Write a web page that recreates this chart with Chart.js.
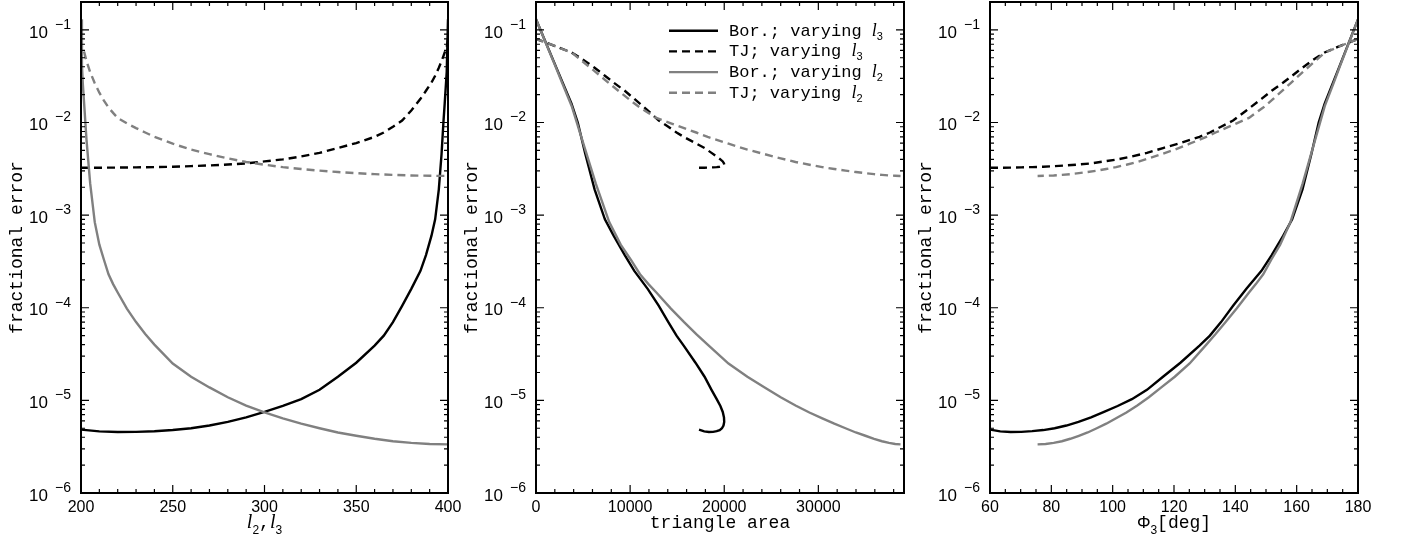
<!DOCTYPE html>
<html>
<head>
<meta charset="utf-8">
<script src="https://cdn.jsdelivr.net/npm/chart.js@4.4.1/dist/chart.umd.min.js"></script>
<style>
body { margin: 0; background: #fff; width: 1410px; height: 542px; overflow: hidden; position: relative; }
.panel { position: absolute; top: 0; height: 542px; }
</style>
</head>
<body>
<div class="panel" style="left:0px;width:480px"><canvas id="c1" width="480" height="542"></canvas></div>
<div class="panel" style="left:455px;width:480px"><canvas id="c2" width="480" height="542"></canvas></div>
<div class="panel" style="left:909px;width:501px"><canvas id="c3" width="501" height="542"></canvas></div>
<script>
// varying l3 (l1 = l2 = 200)
var L3 = [200, 210, 220, 230, 240, 250, 260, 270, 280, 290, 300, 310, 320, 330, 340, 350, 360, 365, 370, 375, 380, 385, 388, 391, 393, 395, 396.5, 397.5, 398.2, 399.3, 400];
var area3 = [17320, 17873, 18374, 18817, 19200, 19516, 19758, 19921, 19996, 19974, 19843, 19591, 19200, 18649, 17910, 16944, 15692, 14931, 14059, 13049, 11866, 10444, 9432, 8247, 7321, 6226, 5234, 4437, 3774, 2362, 0];
var phi3 = [60, 63.34, 66.73, 70.2, 73.74, 77.36, 81.08, 84.91, 88.85, 92.94, 97.18, 101.61, 106.26, 111.18, 116.42, 122.09, 128.32, 131.71, 135.34, 139.27, 143.61, 148.52, 151.86, 155.63, 158.53, 161.9, 164.82, 167.18, 169.13, 173.22, 180];
var borL3 = [4.83e-6, 4.63e-6, 4.56e-6, 4.57e-6, 4.65e-6, 4.78e-6, 5.0e-6, 5.35e-6, 5.85e-6, 6.55e-6, 7.5e-6, 8.7e-6, 1.03e-5, 1.3e-5, 1.8e-5, 2.55e-5, 3.9e-5, 5.0e-5, 7.0e-5, 1.05e-4, 1.6e-4, 2.5e-4, 3.7e-4, 6.0e-4, 9.0e-4, 1.9e-3, 4.6e-3, 1.0e-2, 1.6e-2, 3.5e-2, 0.13];
var tjL3 = [3.25e-3, 3.25e-3, 3.26e-3, 3.28e-3, 3.3e-3, 3.33e-3, 3.38e-3, 3.44e-3, 3.52e-3, 3.62e-3, 3.8e-3, 4.0e-3, 4.3e-3, 4.7e-3, 5.3e-3, 6.0e-3, 7.0e-3, 7.8e-3, 9.0e-3, 1.05e-2, 1.35e-2, 1.8e-2, 2.2e-2, 2.7e-2, 3.2e-2, 3.9e-2, 4.6e-2, 5.2e-2, 5.7e-2, 6.5e-2, 8.0e-2];

// varying l2 (l1 = 400, l3 = 200)
var L2 = [200, 200.5, 201, 201.8, 203, 205, 207.5, 210, 212.5, 215, 217.5, 220, 225, 230, 235, 240, 250, 260, 270, 280, 290, 300, 310, 320, 330, 340, 350, 360, 370, 380, 390, 400];
var area2 = [0, 2001, 2830, 3799, 4908, 6344, 7781, 8997, 10073, 11049, 11950, 12790, 14333, 15735, 17030, 18239, 20454, 22459, 24297, 25997, 27576, 29047, 30419, 31696, 32883, 33982, 34995, 35920, 36758, 37507, 38165, 38730];
var phi2 = [180, 174.27, 171.91, 169.15, 166.02, 161.97, 157.97, 154.62, 151.71, 149.09, 146.68, 144.46, 140.43, 136.83, 133.56, 130.54, 125.1, 120.25, 115.86, 111.8, 108.03, 104.48, 101.11, 97.9, 94.82, 91.85, 88.98, 86.18, 83.44, 80.76, 78.13, 75.52];
var borL2 = [0.13, 0.042, 0.026, 0.015, 6.5e-3, 2.2e-3, 8.4e-4, 4.8e-4, 3.3e-4, 2.3e-4, 1.8e-4, 1.46e-4, 9.8e-5, 7.0e-5, 5.2e-5, 4.0e-5, 2.5e-5, 1.8e-5, 1.38e-5, 1.08e-5, 8.8e-6, 7.4e-6, 6.4e-6, 5.6e-6, 5.0e-6, 4.5e-6, 4.15e-6, 3.85e-6, 3.62e-6, 3.48e-6, 3.38e-6, 3.35e-6];
var tjL2 = [0.08, 0.067, 0.062, 0.057, 0.046, 0.035, 0.0265, 0.021, 0.0172, 0.0145, 0.0127, 0.0112, 9.8e-3, 8.7e-3, 7.8e-3, 7.0e-3, 5.9e-3, 5.1e-3, 4.55e-3, 4.1e-3, 3.75e-3, 3.5e-3, 3.3e-3, 3.15e-3, 3.02e-3, 2.92e-3, 2.84e-3, 2.77e-3, 2.72e-3, 2.68e-3, 2.66e-3, 2.65e-3];

var yExp = [-6, -5, -4, -3, -2, -1];
var xTicks1 = [200, 250, 300, 350, 400];
var xTicks2 = [0, 10000, 20000, 30000];
var xTicks3 = [60, 80, 100, 120, 140, 160, 180];
var legendText = ['Bor.; varying ', 'TJ; varying ', 'Bor.; varying ', 'TJ; varying '];
var legendSub = ['3', '3', '2', '2'];

var BLACK = '#000000', GREY = '#808080';
var MONO = '"Liberation Mono", "Courier New", monospace';
var SANS = '"Liberation Sans", Arial, sans-serif';
var SERIF = '"Liberation Serif", "Times New Roman", serif';

function pts(xs, ys) {
    return xs.map(function(x, i) { return {x: x, y: ys[i]}; });
}

function series(xs3, xs2) {
    var base = {showLine: true, pointRadius: 0, borderWidth: 2.4, fill: false, tension: 0};
    return [
        Object.assign({label: 'Bor.; varying l2', data: pts(xs2, borL2), borderColor: GREY}, base),
        Object.assign({label: 'TJ; varying l2', data: pts(xs2, tjL2), borderColor: GREY, borderDash: [8, 5]}, base),
        Object.assign({label: 'Bor.; varying l3', data: pts(xs3, borL3), borderColor: BLACK}, base),
        Object.assign({label: 'TJ; varying l3', data: pts(xs3, tjL3), borderColor: BLACK, borderDash: [8, 5]}, base)
    ];
}

function rich(ctx, parts, x, y, align) {
    var w = 0;
    parts.forEach(function(p) { ctx.font = p.f; w += ctx.measureText(p.t).width; });
    var cx = align === 'center' ? x - w / 2 : x;
    ctx.textAlign = 'left';
    ctx.textBaseline = 'alphabetic';
    parts.forEach(function(p) {
        ctx.font = p.f;
        ctx.fillText(p.t, cx, y + (p.dy || 0));
        cx += ctx.measureText(p.t).width;
    });
}

// frame, inward ticks on all sides, 10^n labels, rich titles, legend
var decor = {
    id: 'decor',
    afterDatasetsDraw: function(chart, args, o) {
        var ctx = chart.ctx, a = chart.chartArea;
        var xs = chart.scales.x, ys = chart.scales.y;
        ctx.save();
        ctx.strokeStyle = '#000';
        ctx.fillStyle = '#000';
        ctx.lineWidth = 1.2;
        ctx.beginPath();
        for (var v = o.xMin; v <= o.xMax + 1e-6; v += o.xMinor) {
            var px = xs.getPixelForValue(v);
            var len = o.majors.indexOf(v) >= 0 ? 8 : 4;
            ctx.moveTo(px, a.bottom); ctx.lineTo(px, a.bottom - len);
            ctx.moveTo(px, a.top); ctx.lineTo(px, a.top + len);
        }
        yExp.forEach(function(e) {
            for (var m = 1; m <= 9; m++) {
                var val = m * Math.pow(10, e);
                if (val >= ys.max * 0.999) continue;
                var py = ys.getPixelForValue(val);
                var l = m === 1 ? 8 : 4;
                ctx.moveTo(a.left, py); ctx.lineTo(a.left + l, py);
                ctx.moveTo(a.right, py); ctx.lineTo(a.right - l, py);
            }
        });
        ctx.stroke();
        ctx.lineWidth = 2;
        ctx.strokeRect(a.left, a.top, a.right - a.left, a.bottom - a.top);

        yExp.forEach(function(e) {
            var py = ys.getPixelForValue(Math.pow(10, e));
            ctx.textBaseline = 'middle';
            ctx.textAlign = 'left';
            ctx.font = '14px ' + SANS;
            ctx.fillText('\u2212' + (-e), a.left - 26, py - 5);
            ctx.textAlign = 'right';
            ctx.font = '17px ' + SANS;
            ctx.fillText('10', a.left - 33, py + 3);
        });

        if (o.xTitle) {
            rich(ctx, o.xTitle, (a.left + a.right) / 2, 528, 'center');
        }

        if (o.legend) {
            var ds = chart.data.datasets;
            var order = [2, 3, 0, 1];
            order.forEach(function(di, i) {
                var d = ds[di];
                var cy = a.top + 28.7 + i * 20.7;
                ctx.beginPath();
                ctx.lineWidth = 2.4;
                ctx.strokeStyle = d.borderColor;
                ctx.setLineDash(d.borderDash || []);
                ctx.moveTo(a.left + 133, cy);
                ctx.lineTo(a.left + 182, cy);
                ctx.stroke();
                ctx.setLineDash([]);
                rich(ctx, [
                    {t: legendText[i], f: '17px ' + MONO},
                    {t: 'l', f: 'italic 18px ' + SERIF},
                    {t: legendSub[i], f: '11px ' + SANS, dy: 4}
                ], a.left + 193, cy + 5, 'left');
            });
        }
        ctx.restore();
    }
};

function makeChart(id, xs3, xs2, xMin, xMax, xTicks, xMinor, rightPad, xTitleText, xTitleRich, legend) {
    return new Chart(document.getElementById(id), {
        type: 'scatter',
        data: {datasets: series(xs3, xs2)},
        options: {
            responsive: false,
            animation: false,
            events: [],
            layout: {padding: {left: 0, right: rightPad, top: 2, bottom: 0}},
            scales: {
                x: {
                    type: 'linear',
                    position: 'bottom',
                    min: xMin,
                    max: xMax,
                    grid: {display: false, drawTicks: false},
                    border: {display: false},
                    afterBuildTicks: function(s) { s.ticks = xTicks.map(function(v) { return {value: v}; }); },
                    afterFit: function(s) { s.height = 49; },
                    ticks: {
                        font: {family: SANS, size: 16},
                        color: '#000',
                        padding: 5,
                        maxRotation: 0,
                        autoSkip: false,
                        callback: function(v) { return String(v); }
                    },
                    title: {
                        display: !!xTitleText,
                        text: xTitleText || '',
                        color: '#000',
                        font: {family: MONO, size: 18},
                        padding: {top: 0, bottom: 8}
                    }
                },
                y: {
                    type: 'logarithmic',
                    position: 'left',
                    min: 1e-6,
                    max: 0.2,
                    grid: {display: false, drawTicks: false},
                    border: {display: false},
                    ticks: {display: false},
                    afterFit: function(s) { s.width = 81; },
                    title: {
                        display: true,
                        text: 'fractional error',
                        color: '#000',
                        font: {family: MONO, size: 18},
                        padding: {top: 6, bottom: 0}
                    }
                }
            },
            plugins: {
                legend: {display: false},
                tooltip: {enabled: false},
                decor: {xMin: xMin, xMax: xMax, xMinor: xMinor, majors: xTicks, xTitle: xTitleRich, legend: legend}
            }
        },
        plugins: [decor]
    });
}

var sub = function(t) { return {t: t, f: '12px ' + SANS, dy: 6}; };
var itl = {t: 'l', f: 'italic 20px ' + SERIF};

makeChart('c1', L3, L2, 200, 400, xTicks1, 10, 32, null,
    [itl, sub('2'), {t: ',', f: '18px ' + MONO}, itl, sub('3')], false);
makeChart('c2', area3, area2, 0, 39100, xTicks2, 2000, 31, 'triangle area', null, true);
makeChart('c3', phi3, phi2, 60, 180, xTicks3, 5, 52, null,
    [{t: '\u03a6', f: '17px ' + SANS}, sub('3'), {t: '[deg]', f: '18px ' + MONO}], false);
</script>
</body>
</html>
